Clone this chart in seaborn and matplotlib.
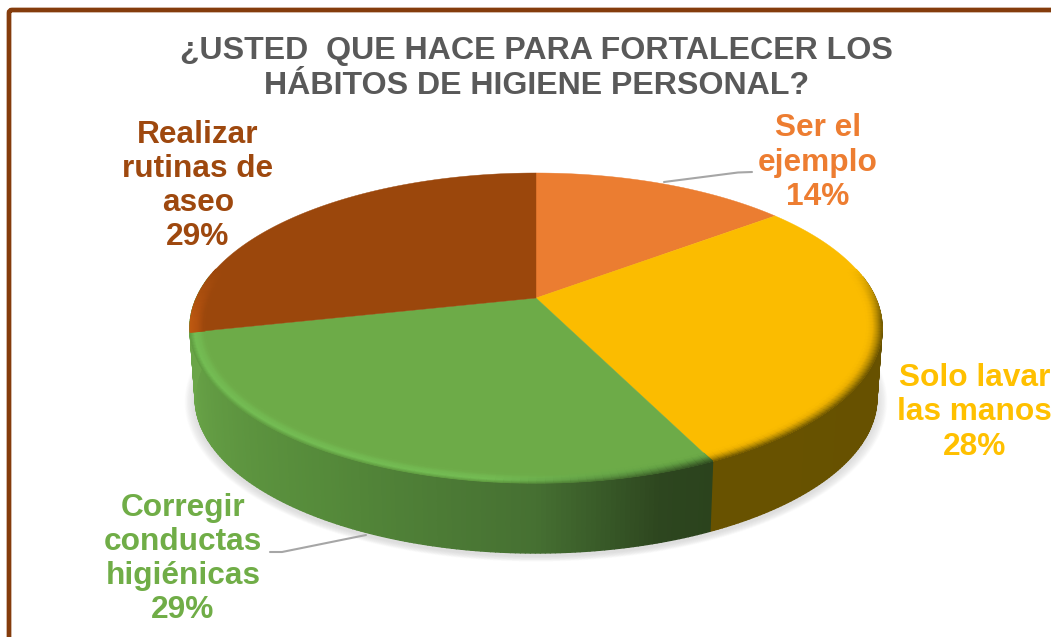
import numpy as np
import matplotlib
matplotlib.use("Agg")
import matplotlib.pyplot as plt
from matplotlib.collections import PolyCollection
from matplotlib.patches import FancyBboxPatch
from matplotlib.colors import to_rgb
import seaborn as sns

# --- data ---
slice_names = ["Ser el\nejemplo", "Solo lavar\nlas manos", "Corregir\nconductas\nhigiénicas", "Realizar\nrutinas de\naseo"]
shares = [14.45, 28.49, 28.53, 28.53]
percent_labels = ["14%", "28%", "29%", "29%"]
face_colors = ["#EB7D31", "#FBBC00", "#6DAB48", "#9B470C"]
label_colors = ["#ED7D31", "#FFC000", "#70AD47", "#9E480E"]
title_lines = "¿USTED  QUE HACE PARA FORTALECER LOS\nHÁBITOS DE HIGIENE PERSONAL?"

sns.set_theme(style="white")
plt.rcParams["font.family"] = ["Liberation Sans", "DejaVu Sans"]

fig = plt.figure(figsize=(10.51, 6.37), dpi=100, facecolor="white")
ax = fig.add_axes([0, 0, 1, 1])
ax.set_xlim(0, 1051)
ax.set_ylim(637, 0)
ax.axis("off")

# outer frame, running off the right and bottom edges
ax.add_patch(FancyBboxPatch((9, 10), 1100, 700, boxstyle="round,pad=0,rounding_size=3",
                            fc="white", ec="#843C0C", lw=3.4, zorder=0))

# projected disc geometry
CX, CY, C, B, A = 536.0, 298.0, 339.5, 149.2, 0.1935
DEPTH, BASE_SHRINK = 70.0, 0.985


def project(theta, r=1.0, base=False):
    u, v = r * np.sin(theta), r * np.cos(theta)
    w = 1 + A * v
    x = CX + C * u / w
    y = CY - B * v / w
    if base:
        x = CX + (x - CX) * BASE_SHRINK
        y = y + DEPTH
    return x, y


rgb = lambda c: np.array(to_rgb(c))
edges = np.radians(np.concatenate([[0], np.cumsum(shares)]) * 3.6)
edges[-1] = 2 * np.pi

# soft shadow
full = np.linspace(0, 2 * np.pi, 361)
for k in range(14):
    sx, sy = project(full, base=True)
    grow = 1 + 0.0022 * (14 - k)
    px = CX + (sx - CX) * grow
    py = CY + 70 + (sy - CY - 70) * grow + 3
    ax.fill(px, py, color="#8c8c8c", alpha=0.018, lw=0, zorder=1)

# side wall
wall_stops = {
    2: [(0.0, "#6AA548"), (0.45, "#558a3a"), (0.75, "#467032"), (0.92, "#2d461f"), (1.0, "#2b431d")],
    1: [(0.0, "#655000"), (1.0, "#685200")],
    3: [(0.0, "#6AA548"), (1.0, "#6AA548")],
    0: [(0.0, "#685200"), (1.0, "#685200")],
}
wall_polys, wall_cols = [], []
for i in range(4):
    a, b = edges[i], edges[i + 1]
    ts = np.linspace(a, b, 150)
    for t0, t1 in zip(ts[:-1], ts[1:]):
        mid = (t0 + t1) / 2
        if np.cos(mid) > 0.15:
            continue
        x0, y0 = project(t0)
        x1, y1 = project(t1)
        x2, y2 = project(t1, base=True)
        x3, y3 = project(t0, base=True)
        wall_polys.append([(x0, y0), (x1, y1), (x2, y2), (x3, y3)])
        # the green wall darkens from the left towards its right end
        if i == 2:
            s = 1 - (mid - a) / (b - a)
        else:
            s = (mid - a) / (b - a)
        st = wall_stops[i]
        pos = [p for p, _ in st]
        col = [np.interp(s, pos, [rgb(c)[j] for _, c in st]) for j in range(3)]
        wall_cols.append(col)
ax.add_collection(PolyCollection(wall_polys, facecolors=wall_cols, edgecolors=wall_cols,
                                 linewidths=1.0, zorder=2))

# top face
for i in range(4):
    ts = np.linspace(edges[i], edges[i + 1], 120)
    xs, ys = project(ts)
    ax.fill(np.r_[CX, xs], np.r_[CY, ys], color=face_colors[i], lw=0.3, zorder=3)

# rounded rim on the front of the top face
BAND = 0.042
rim_profiles = {
    0: ["#685200", "#EB7D31"],
    1: ["#6e5700", "#b58a00", "#ecb000", "#FBBC00"],
    2: ["#5f9a40", "#74bd54", "#72b750", "#6DAB48"],
    3: ["#bf5a10", "#b4520f", "#9B470C"],
}
dark_green_rim = ["#2f4a20", "#46702f", "#5f9a40", "#6DAB48"]
rim_polys, rim_cols = [], []
N = 14
for i in range(4):
    ts = np.linspace(edges[i], edges[i + 1], 90)
    prof = [rgb(c) for c in rim_profiles[i]]
    dark = [rgb(c) for c in dark_green_rim]
    pp = np.linspace(0, 1, len(prof))
    for t0, t1 in zip(ts[:-1], ts[1:]):
        mid = (t0 + t1) / 2
        f = np.clip((0.2 - np.cos(mid)) / 0.35, 0, 1)
        if f <= 0:
            continue
        if i == 2:
            m = np.clip(1 - (mid - edges[i]) / (edges[i + 1] - edges[i]) * 3.2, 0, 1)
            prof_here = [d * m + q * (1 - m) for d, q in zip(dark, prof)]
        else:
            prof_here = prof
        for k in range(N):
            r0, r1 = 1 - BAND * k / N, 1 - BAND * (k + 1) / N
            xa, ya = project(np.array([t0, t1]), r0)
            xb, yb = project(np.array([t1, t0]), r1)
            rim_polys.append(list(zip(np.r_[xa, xb], np.r_[ya, yb])))
            c = np.array([np.interp((k + .5) / N, pp, [q[j] for q in prof_here]) for j in range(3)])
            rim_cols.append(c * f + rgb(face_colors[i]) * (1 - f))
ax.add_collection(PolyCollection(rim_polys, facecolors=rim_cols, edgecolors=rim_cols,
                                 linewidths=0.8, zorder=4))

# leader lines
ax.plot([664, 738, 752], [182, 172.5, 172], color="#A6A6A6", lw=1.5, zorder=5, solid_capstyle="round")
ax.plot([366, 282, 270], [535, 552, 552], color="#A6A6A6", lw=1.5, zorder=5, solid_capstyle="round")

# texts
FS = 22.8
LS = 1.18
label_pos = [(818, 162.5), (974.5, 412.5), (183, 559), (198, 186)]
for name, pct, col, (lx, ly) in zip(slice_names, percent_labels, label_colors, label_pos):
    ax.text(lx, ly, f"{name}\n{pct}", color=col, fontsize=FS, fontweight="bold", ha="center",
            va="center", linespacing=LS, zorder=6)

ax.text(536.5, 68.5, title_lines, color="#595959", fontsize=23.1, fontweight="bold", ha="center",
        va="center", linespacing=1.18, zorder=6)

fig.savefig("out.png", dpi=100, facecolor="white")
